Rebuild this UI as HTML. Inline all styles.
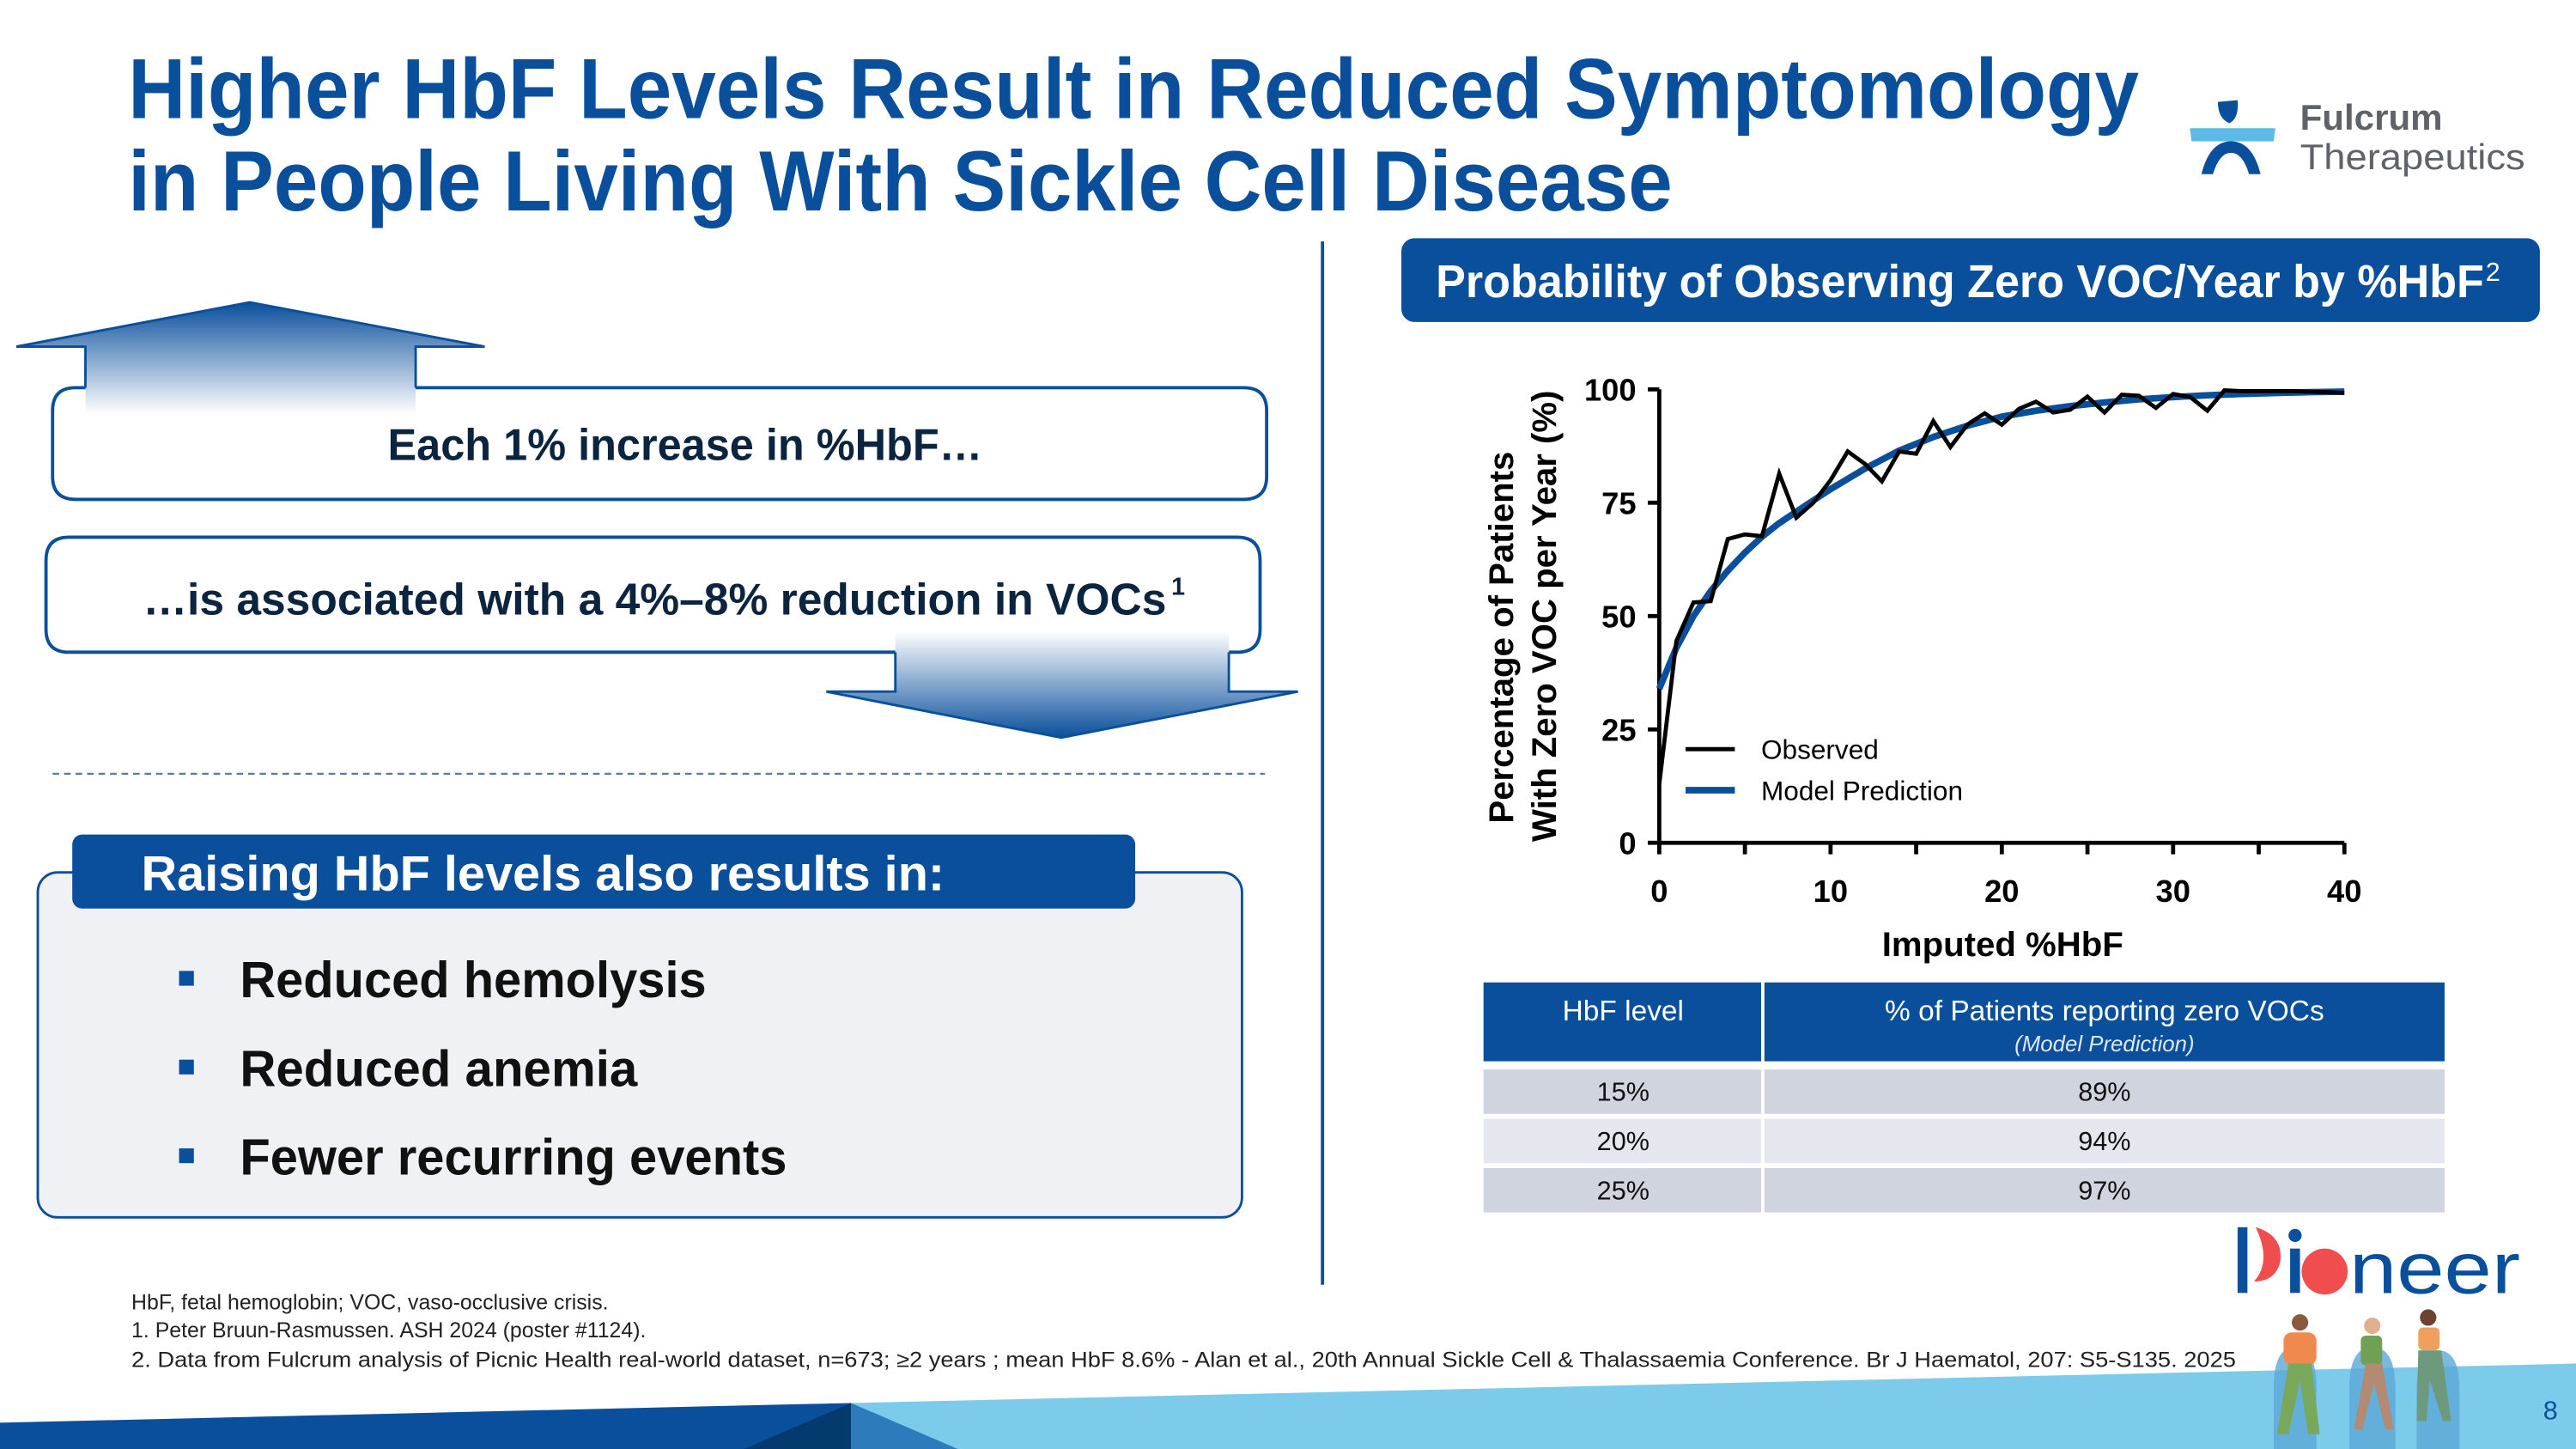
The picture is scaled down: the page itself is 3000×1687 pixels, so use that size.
<!DOCTYPE html>
<html><head><meta charset="utf-8"><style>
html,body{margin:0;padding:0;background:#fff;overflow:hidden}
svg{display:block}
text{font-family:"Liberation Sans",sans-serif}
</style></head><body>
<svg id="slide" width="3000" height="1687" viewBox="0 0 1568 882" preserveAspectRatio="none" xmlns="http://www.w3.org/2000/svg">
<defs>
<linearGradient id="gUp" x1="0" y1="0" x2="0" y2="1"><stop offset="0" stop-color="#0a4f9c"/><stop offset="1" stop-color="#ffffff"/></linearGradient>
<linearGradient id="gDn" x1="0" y1="1" x2="0" y2="0"><stop offset="0" stop-color="#0a4f9c"/><stop offset="1" stop-color="#ffffff"/></linearGradient>
</defs>
<g fill="#0a4f9c" font-weight="bold" font-size="52">
<text x="78" y="72" textLength="1224" lengthAdjust="spacingAndGlyphs">Higher HbF Levels Result in Reduced Symptomology</text>
<text x="78" y="128" textLength="940" lengthAdjust="spacingAndGlyphs">in People Living With Sickle Cell Disease</text>
</g>
<g>
<path d="M1350,62 L1362,61 Q1363,72 1357,75 Q1350,72 1350,62Z" fill="#0a4f9c"/>
<polygon points="1333,78 1385,78 1384,86 1334,86" fill="#5bbbe6"/>
<path d="M1340,106 Q1345,86 1358,86 Q1371,86 1376,106 L1369,106 Q1365,93 1358,93 Q1351,93 1347,106Z" fill="#0a4f9c"/>
<text x="1400" y="79" font-family="Liberation Serif,serif" font-weight="bold" font-size="22" fill="#5f6266">Fulcrum</text>
<text x="1400" y="103" font-family="Liberation Serif,serif" font-size="22" fill="#5f6266" textLength="137" lengthAdjust="spacingAndGlyphs">Therapeutics</text>
</g>
<line x1="805" y1="147" x2="805" y2="782" stroke="#0a4f9c" stroke-width="2"/>
<path d="M52,236 L46,236 Q32,236 32,250 L32,290 Q32,304 46,304 L757,304 Q771,304 771,290 L771,250 Q771,236 757,236 L253,236" fill="#fff" stroke="#0a4f9c" stroke-width="2"/>
<g>
<polygon points="52,252 52,211 10,211 152,184 295,211 253,211 253,252" fill="url(#gUp)"/>
<polyline points="52,236 52,211 10,211 152,184 295,211 253,211 253,236" fill="none" stroke="#0a4f9c" stroke-width="1.5"/>
</g>
<text x="417" y="280" text-anchor="middle" font-size="27" font-weight="bold" fill="#0b2540" textLength="362" lengthAdjust="spacingAndGlyphs">Each 1% increase in %HbF…</text>
<path d="M545,397 L42,397 Q28,397 28,383 L28,341 Q28,327 42,327 L753,327 Q767,327 767,341 L767,383 Q767,397 753,397 L748,397" fill="#fff" stroke="#0a4f9c" stroke-width="2"/>
<g>
<polygon points="545,384 545,421 503,421 646,449 790,421 748,421 748,384" fill="url(#gDn)"/>
<polyline points="545,397 545,421 503,421 646,449 790,421 748,421 748,397" fill="none" stroke="#0a4f9c" stroke-width="1.5"/>
</g>
<text x="87" y="374" font-size="27" font-weight="bold" fill="#0b2540" textLength="623" lengthAdjust="spacingAndGlyphs">…is associated with a 4%–8% reduction in VOCs</text>
<text x="713" y="362" font-size="15" font-weight="bold" fill="#0b2540">1</text>
<line x1="32" y1="471" x2="770" y2="471" stroke="#5a7ba6" stroke-width="1.2" stroke-dasharray="4,3"/>
<rect x="23" y="531" width="733" height="210" rx="12" fill="#f0f1f4" stroke="#0a4f9c" stroke-width="1.5"/>
<rect x="44" y="508" width="647" height="45" rx="6" fill="#0a4f9c"/>
<text x="86" y="542" font-size="30" fill="#fff" font-weight="bold" textLength="489" lengthAdjust="spacingAndGlyphs">Raising HbF levels also results in:</text>
<g font-size="31" fill="#111" font-weight="bold">
<rect x="109" y="591" width="9" height="9" fill="#0a4f9c"/><text x="146" y="607" textLength="284" lengthAdjust="spacingAndGlyphs">Reduced hemolysis</text>
<rect x="109" y="645" width="9" height="9" fill="#0a4f9c"/><text x="146" y="661" textLength="242" lengthAdjust="spacingAndGlyphs">Reduced anemia</text>
<rect x="109" y="699" width="9" height="9" fill="#0a4f9c"/><text x="146" y="715" textLength="333" lengthAdjust="spacingAndGlyphs">Fewer recurring events</text>
</g>
<rect x="853" y="145" width="693" height="51" rx="8" fill="#0a4f9c"/>
<text x="874" y="181" font-size="28" fill="#fff" font-weight="bold" textLength="638" lengthAdjust="spacingAndGlyphs">Probability of Observing Zero VOC/Year by %HbF</text>
<text x="1513" y="171" font-size="16" fill="#fff">2</text>
<g id="chart"></g>
<g>
<line x1="1026" y1="456" x2="1056" y2="456" stroke="#000" stroke-width="2.5"/>
<text x="1072" y="462" font-size="16.5" fill="#000">Observed</text>
<line x1="1026" y1="481" x2="1056" y2="481" stroke="#0a4f9c" stroke-width="4"/>
<text x="1072" y="487" font-size="16.5" fill="#000">Model Prediction</text>
</g>
<g>
<rect x="903" y="598" width="585" height="48" fill="#0a4f9c"/>
<line x1="1073" y1="598" x2="1073" y2="738" stroke="#fff" stroke-width="2"/>
<text x="988" y="621" text-anchor="middle" font-size="17.5" fill="#fff">HbF level</text>
<text x="1281" y="621" text-anchor="middle" font-size="17.5" fill="#fff">% of Patients reporting zero VOCs</text>
<text x="1281" y="640" text-anchor="middle" font-size="13.5" font-style="italic" fill="#dfe6f2">(Model Prediction)</text>
<rect x="903" y="651" width="169" height="27" fill="#cfd4de"/><rect x="1074" y="651" width="414" height="27" fill="#cfd4de"/>
<rect x="903" y="681" width="169" height="27" fill="#e4e7ed"/><rect x="1074" y="681" width="414" height="27" fill="#e4e7ed"/>
<rect x="903" y="711" width="169" height="27" fill="#cfd4de"/><rect x="1074" y="711" width="414" height="27" fill="#cfd4de"/>
<g font-size="16" fill="#111" text-anchor="middle">
<text x="988" y="670">15%</text><text x="1281" y="670">89%</text>
<text x="988" y="700">20%</text><text x="1281" y="700">94%</text>
<text x="988" y="730">25%</text><text x="1281" y="730">97%</text>
</g>
</g>
<g>
<rect x="1362" y="747" width="6" height="40" fill="#0a4f9c"/>
<path d="M1373,747 Q1390,752 1388,768 Q1385,780 1372,780 Q1383,768 1373,747Z" fill="#f04e4e"/>
<circle cx="1397" cy="752" r="4" fill="#0a4f9c"/><rect x="1394" y="760" width="6" height="27" fill="#0a4f9c"/>
<circle cx="1415" cy="774" r="14" fill="#f04e4e"/>
<text x="1430" y="787" font-size="44" fill="#0a4f9c" textLength="104" lengthAdjust="spacingAndGlyphs">neer</text>
</g>
<g font-size="13" fill="#222">
<text x="80" y="797">HbF, fetal hemoglobin; VOC, vaso-occlusive crisis.</text>
<text x="80" y="814">1. Peter Bruun-Rasmussen. ASH 2024 (poster #1124).</text>
<text x="80" y="832" textLength="1281" lengthAdjust="spacingAndGlyphs">2. Data from Fulcrum analysis of Picnic Health real-world dataset, n=673; ≥2 years ; mean HbF 8.6% - Alan et al., 20th Annual Sickle Cell &amp; Thalassaemia Conference. Br J Haematol, 207: S5-S135. 2025</text>
</g>
<g>
<polygon points="518,854 1568,830 1568,882 518,882" fill="#7ccbea"/>
<polygon points="0,866 518,854 518,882 0,882" fill="#0a4f9c"/>
<polygon points="518,854 453,882 518,882" fill="#053a6e"/>
<polygon points="518,854 583,882 518,882" fill="#2d7bbd"/>
<text x="1548" y="864" font-size="16" fill="#0a4f9c">8</text>
</g>
<g>
<path d="M1384,882 L1384,845 Q1384,820 1397,820 Q1410,820 1410,845 L1410,882Z" fill="#5aa8d6" opacity="0.8"/>
<path d="M1430,882 L1430,845 Q1430,820 1444,820 Q1458,820 1458,845 L1458,882Z" fill="#5aa8d6" opacity="0.8"/>
<path d="M1471,882 L1471,845 Q1471,822 1484,822 Q1497,822 1497,845 L1497,882Z" fill="#5aa8d6" opacity="0.8"/>
<circle cx="1400" cy="805" r="5" fill="#8a5a3c"/><rect x="1390" y="811" width="20" height="20" rx="5" fill="#f0894e"/><path d="M1393,830 L1386,873 L1393,873 L1400,840 L1405,873 L1412,873 L1407,830Z" fill="#7aa85a"/>
<circle cx="1444" cy="807" r="5" fill="#e2b08c"/><rect x="1437" y="813" width="13" height="18" rx="3" fill="#6fa054"/><path d="M1440,830 L1433,870 L1438,870 L1445,842 L1452,870 L1457,870 L1450,830Z" fill="#b38a72"/>
<circle cx="1478" cy="802" r="5" fill="#6b4330"/><rect x="1472" y="808" width="13" height="14" rx="3" fill="#f0a05e"/><path d="M1472,822 L1471,865 L1477,865 L1479,840 L1487,865 L1492,865 L1486,822Z" fill="#6d9a7c"/>
</g>
<script>
var xTicks=[0,10,20,30,40];
var yTicks=[0,25,50,75,100];
var obsX=[0,1,2,3,4,5,6,7,8,9,10,11,12,13,14,15,16,17,18,19,20,21,22,23,24,25,26,27,28,29,30,31,32,33,34,35,36,37,38,39,40];
var obsY=[13,44.5,53,53.3,67,68,67.6,81.4,71.7,75,80,86.3,83.6,79.7,86.3,85.8,93,87.3,92.3,94.7,92.2,95.7,97.3,94.9,95.5,98.4,94.9,98.8,98.6,95.9,99,98.3,95.3,99.8,99.6,99.6,99.6,99.6,99.5,99.4,99.2];
var modelX=[0,1,2,3,4,5,6,7,8,9,10,12,14,16,18,20,22,24,26,28,30,32,34,36,38,40];
var modelY=[34,43,50,55.5,60,64,67.5,70.5,73,75.5,78,82.5,86.5,89.5,92,94,95.3,96.3,97.1,97.8,98.3,98.7,99,99.2,99.4,99.5];
var NS='http://www.w3.org/2000/svg';
var X0=1010,X1=1427,Y0=513,Y1=237;
function sx(v){return X0+(v-0)/(40-0)*(X1-X0);}
function sy(v){return Y0-(v-0)/(100-0)*(Y0-Y1);}
var g=document.getElementById('chart');
function mk(tag,attrs){var e=document.createElementNS(NS,tag);for(var k in attrs)e.setAttribute(k,attrs[k]);g.appendChild(e);return e;}
var ax=mk('path',{d:'M'+X0+','+Y1+' L'+X0+','+Y0+' L'+X1+','+Y0,fill:'none',stroke:'#000','stroke-width':2.5});


yTicks.forEach(function(t){
  mk('line',{x1:X0-7,y1:sy(t),x2:X0,y2:sy(t),stroke:'#000','stroke-width':2.5});
  var tx=mk('text',{x:X0-14,y:sy(t)+7,'text-anchor':'end','font-size':19,'font-weight':'bold',fill:'#000'});
  tx.textContent=t;
  
  
});
for(var m=0;m<=40;m+=5){mk('line',{x1:sx(m),y1:Y0,x2:sx(m),y2:Y0+7,stroke:'#000','stroke-width':2.5});}
xTicks.forEach(function(t){
  var tx=mk('text',{x:sx(t),y:Y0+36,'text-anchor':'middle','font-size':19,'font-weight':'bold',fill:'#000'});
  tx.textContent=t;
  
  
});
var xt=mk('text',{x:1219,y:582,'text-anchor':'middle','font-size':21,'font-weight':'bold',fill:'#000'});
xt.textContent='Imputed %HbF';


var yt=mk('text',{transform:'translate(921,388) rotate(-90)','text-anchor':'middle','font-size':21,'font-weight':'bold',fill:'#000'});
yt.textContent='Percentage of Patients';


var yt2=mk('text',{transform:'translate(947,375) rotate(-90)','text-anchor':'middle','font-size':21,'font-weight':'bold',fill:'#000'});
yt2.textContent='With Zero VOC per Year (%)';


var md='';modelX.forEach(function(x,i){md+=(i?' L':'M')+sx(x).toFixed(1)+','+sy(modelY[i]).toFixed(1);});
var mp=mk('path',{d:md,fill:'none',stroke:'#0a4f9c','stroke-width':4,'stroke-linejoin':'round'});


var od='';obsX.forEach(function(x,i){od+=(i?' L':'M')+sx(x).toFixed(1)+','+sy(obsY[i]).toFixed(1);});
var op=mk('path',{d:od,fill:'none',stroke:'#000','stroke-width':2.5,'stroke-linejoin':'miter'});


</script>
</svg>
</body></html>
